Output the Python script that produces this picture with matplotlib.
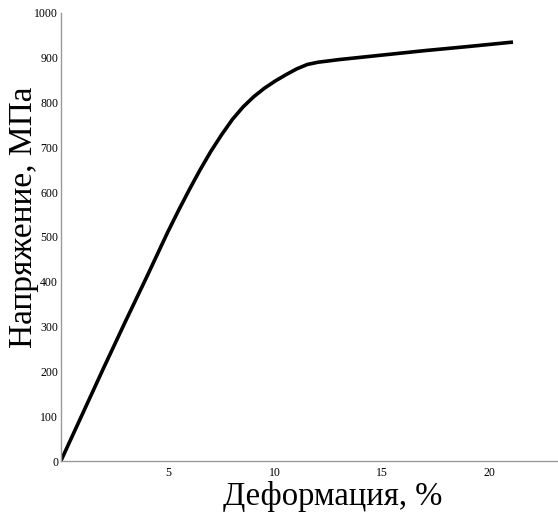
import matplotlib
matplotlib.use("Agg")
import matplotlib.pyplot as plt

# strain, % vs stress, MPa
strain = [0, 1, 2, 3, 4, 5, 5.5, 6.0, 6.5, 7.0, 7.5, 8.0, 8.5, 9.0, 9.5,
          10.0, 10.5, 11.0, 11.5, 12.0, 13.0, 15.0, 17.0, 19.0, 21.1]
stress = [0, 104, 208, 310, 410, 512, 560, 606, 650, 691, 728, 762, 790, 813, 832,
          848, 862, 875, 885, 890, 896, 906, 916, 925, 935]

x_ticks = [5, 10, 15, 20]
y_ticks = [0, 100, 200, 300, 400, 500, 600, 700, 800, 900, 1000]

plt.rcParams["font.family"] = ["Liberation Serif", "DejaVu Serif"]

fig = plt.figure(figsize=(5.58, 5.18), dpi=100)
ax = fig.add_axes([0.109, 0.110, 0.891, 0.865])

ax.plot(strain, stress, color="black", linewidth=2.6,
        solid_capstyle="butt", solid_joinstyle="round")

ax.set_xlim(0, 23.2)
ax.set_ylim(0, 1000)
ax.set_xticks(x_ticks)
ax.set_yticks(y_ticks)
ax.tick_params(axis="both", length=0, labelsize=8.5, pad=2)
ax.tick_params(axis="x", pad=4)

for side in ("top", "right"):
    ax.spines[side].set_visible(False)
for side in ("left", "bottom"):
    ax.spines[side].set_color("#999999")
    ax.spines[side].set_linewidth(1.0)

ax.set_xlabel("Деформация, %", fontsize=23.5)
ax.set_ylabel("Напряжение, МПа", fontsize=24)
ax.xaxis.set_label_coords(0.547, -0.045)
ax.yaxis.set_label_coords(-0.043, 0.545)

fig.savefig("out.png", dpi=100)
